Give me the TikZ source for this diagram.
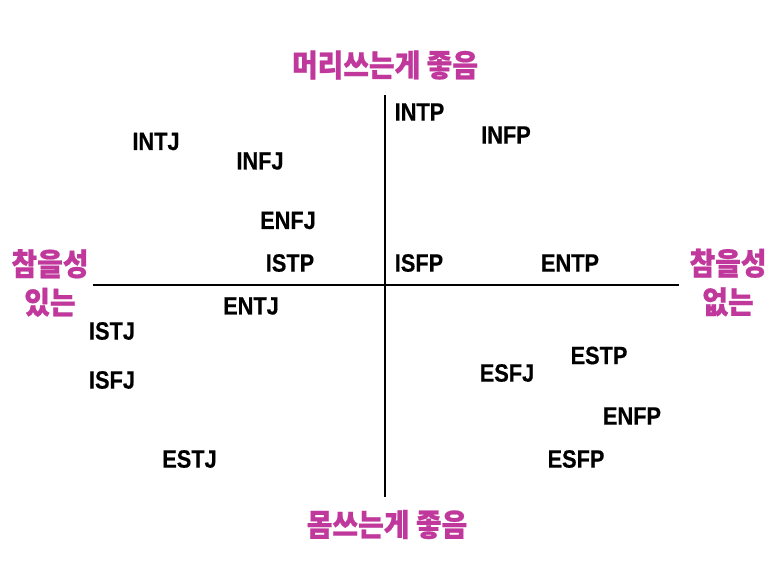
\documentclass[tikz,border=0pt]{standalone}
\usepackage{fontspec}
\newfontfamily\mbtifont{Liberation Sans}[FakeStretch=0.87, FakeBold=0.4]
\newfontfamily\kofont{Noto Sans CJK KR}[FakeStretch=0.9, FakeBold=0.6]
\definecolor{polecolor}{RGB}{192,56,155}

\begin{document}
\begin{tikzpicture}[x=1pt, y=-1pt,
  type/.style={font=\mbtifont\bfseries\fontsize{25}{25}\selectfont, inner sep=0pt},
  pole/.style={font=\kofont\bfseries\fontsize{31}{38.5}\selectfont, text=polecolor, inner sep=0pt, align=center},
  axis/.style={line width=2.6pt}]

  \fill[white] (0,0) rectangle (773,580);
  \useasboundingbox (0,0) rectangle (773,580);

  % axes
  \coordinate (west)  at (93,285);
  \coordinate (east)  at (679,285);
  \coordinate (north) at (385,95);
  \coordinate (south) at (385,497);
  \draw[axis] (west) -- (east);
  \draw[axis] (north) -- (south);

  % poles
  \node[pole] (top)    at (385,65)    {머리쓰는게 좋음};
  \node[pole] (bottom) at (387,524.5) {몸쓰는게 좋음};
  \node[pole] (left)   at (50,283)    {참을성\\있는};
  \node[pole] (right)  at (728,282.5) {참을성\\없는};

  % types
  \node[type] (INTP) at (419.5,112) {INTP};
  \node[type] (INFP) at (506,135)   {INFP};
  \node[type] (INTJ) at (156,141.5) {INTJ};
  \node[type] (INFJ) at (260,161)   {INFJ};
  \node[type] (ENFJ) at (288,220.5) {ENFJ};
  \node[type] (ISTP) at (290,263)   {ISTP};
  \node[type] (ISFP) at (419,263)   {ISFP};
  \node[type] (ENTP) at (570,263)   {ENTP};
  \node[type] (ENTJ) at (251,306)   {ENTJ};
  \node[type] (ISTJ) at (112,331)   {ISTJ};
  \node[type] (ISFJ) at (112,380)   {ISFJ};
  \node[type] (ESTP) at (599,355.5) {ESTP};
  \node[type] (ESFJ) at (507,373)   {ESFJ};
  \node[type] (ENFP) at (632,416)   {ENFP};
  \node[type] (ESFP) at (576,459)   {ESFP};
  \node[type] (ESTJ) at (189.5,459) {ESTJ};

\end{tikzpicture}
\end{document}
